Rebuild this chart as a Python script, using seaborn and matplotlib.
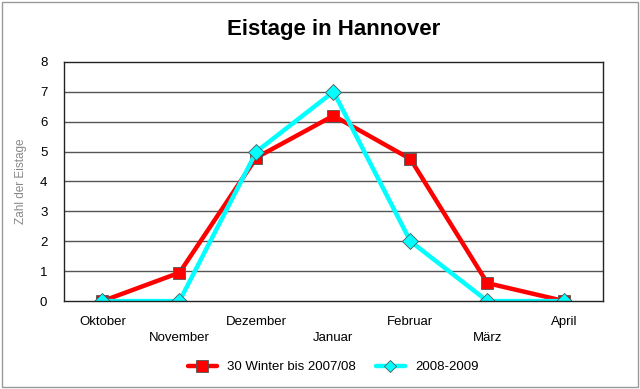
import numpy as np
import pandas as pd
import matplotlib
matplotlib.use("Agg")
import matplotlib.pyplot as plt
import seaborn as sns

# =========================================================
# DATA
# =========================================================
months = ["Oktober", "November", "Dezember", "Januar", "Februar", "März", "April"]
winter_30 = [0, 0.95, 4.8, 6.2, 4.75, 0.6, 0]
winter_0809 = [0, 0, 5, 7, 2, 0, 0]
series_names = ["30 Winter bis 2007/08", "2008-2009"]
tick_labels = [m if i % 2 == 0 else "\n" + m for i, m in enumerate(months)]

df = pd.DataFrame({
    "pos": list(range(len(months))) * 2,
    "value": winter_30 + winter_0809,
    "series": [series_names[0]] * len(months) + [series_names[1]] * len(months),
})

# =========================================================
# PLOT
# =========================================================
sns.set_style("white")
plt.rcParams["font.family"] = ["Liberation Sans", "DejaVu Sans"]
plt.rcParams["text.color"] = "black"
plt.rcParams["xtick.color"] = "black"
plt.rcParams["ytick.color"] = "black"

fig = plt.figure(figsize=(6.4, 3.89), dpi=100)
ax = fig.add_axes([0.1, 0.226, 0.842, 0.615])

for y in range(1, 8):
    ax.axhline(y, color="#555555", lw=1, zorder=0)

sns.lineplot(
    data=df,
    x="pos",
    y="value",
    hue="series",
    style="series",
    palette=["#ff0000", "#00ffff"],
    markers=["s", "D"],
    dashes=False,
    linewidth=3.2,
    markersize=8.5,
    markeredgecolor="#555555",
    markeredgewidth=0.6,
    ax=ax,
)
ax.lines[-1].set_markersize(6)

ax.set_xlim(-0.5, 6.5)
ax.set_ylim(0, 8)
ax.set_xticks(range(len(months)))
ax.set_xticklabels(tick_labels, fontsize=9.5, linespacing=1.35)
ax.set_yticks(range(0, 9))
ax.tick_params(axis="y", labelsize=9.5, length=0, pad=12)
ax.tick_params(axis="x", length=0, pad=11)
ax.set_xlabel("")
ax.set_ylabel("Zahl der Eistage", color="#888888", fontsize=8.5, labelpad=9)

for s in ax.spines.values():
    s.set_color("#222222")
    s.set_linewidth(1)

ax.set_title("Eistage in Hannover", fontsize=16, fontweight="bold", pad=19, color="black")

handles, labels = ax.get_legend_handles_labels()
ax.legend(
    handles,
    labels,
    loc="center",
    bbox_to_anchor=(0.5, -0.277),
    ncol=2,
    frameon=False,
    fontsize=9.5,
    handlelength=2.2,
    columnspacing=1.5,
)

fig.patches.append(plt.Rectangle((0.003, 0.004), 0.994, 0.992, transform=fig.transFigure,
                                 fill=False, edgecolor="#999999", lw=1))

plt.savefig("out.png", dpi=100)
